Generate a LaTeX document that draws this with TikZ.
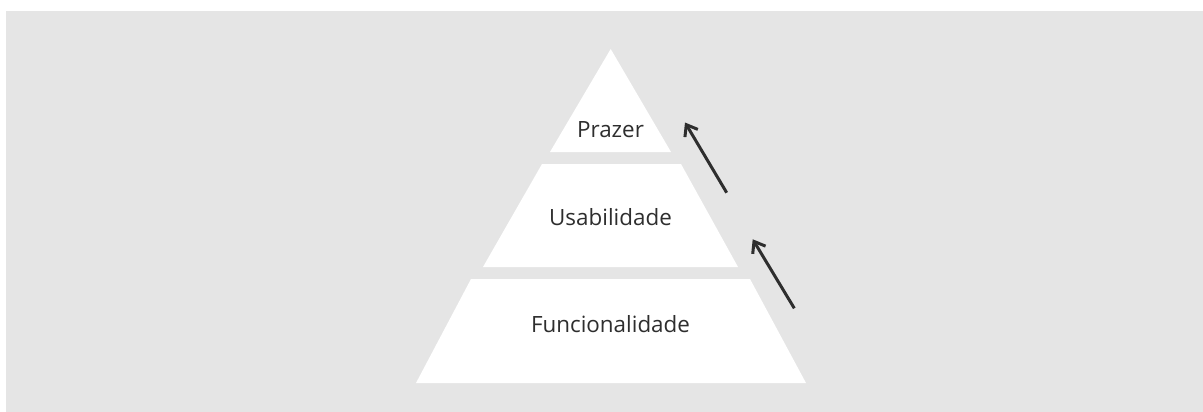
\documentclass[tikz,border=0pt]{standalone}
\usepackage{fontspec}
\setmainfont{Open Sans}
\usetikzlibrary{arrows.meta}
\definecolor{bggray}{HTML}{E5E5E5}
\definecolor{inkgray}{HTML}{2E2E2E}
\tikzset{
  band/.style={fill=white, draw=none},
  label/.style={font=\fontsize{22.4pt}{26pt}\selectfont, text=inkgray, inner sep=0pt, anchor=base},
  uparrow/.style={draw=inkgray, line width=3pt, -{Straight Barb[length=10pt,width=15pt,line width=3pt]}},
}
\begin{document}
\begin{tikzpicture}[x=1pt,y=-1pt]
\useasboundingbox (0,0) rectangle (1203,412);
\fill[white] (0,0) rectangle (1203,412);
\fill[bggray] (6,11) rectangle (1203,412);
% bands
\path[band] (610.7,49) -- (671,152) -- (550,152) -- cycle;
\path[band] (542,164) -- (681,164) -- (738,267) -- (483,267) -- cycle;
\path[band] (471,279) -- (750,279) -- (806,383) -- (416,383) -- cycle;
% labels
\node[label] (prazer) at (610.5,137.7) {Prazer};
\node[label] (usab) at (610.5,225.7) {Usabilidade};
\node[label] (func) at (610.5,332.7) {Funcionalidade};
% arrows
\coordinate (a1tail) at (726.7,192.7);
\coordinate (a1tip) at (685,122.5);
\coordinate (a2tail) at (794.3,308.3);
\coordinate (a2tip) at (752.7,239.3);
\draw[uparrow] (a1tail) -- (a1tip);
\draw[uparrow] (a2tail) -- (a2tip);
\end{tikzpicture}
\end{document}
